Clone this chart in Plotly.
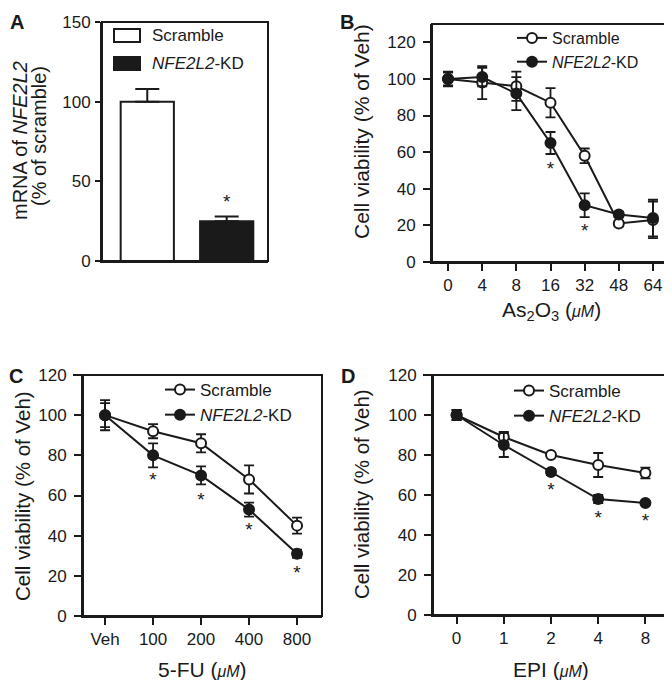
import plotly.graph_objects as go

FONT = "Arial, 'Liberation Sans', Helvetica, sans-serif"
INK = "#1a1a1a"
# page body has an 8px default margin; figure sized so that it fits the 672x680 window
OFF = 8
W, H = 672 - OFF, 680 - OFF

# ---------------- data ----------------
# Panel A
a_groups = ["Scramble", "NFE2L2-KD"]
a_values = [100, 25]
a_err = [8, 3]
a_star_x = ["NFE2L2-KD"]
a_star_y = [36]

# Panel B (As2O3, uM)
b_doses = ["0", "4", "8", "16", "32", "48", "64"]
b_scr = [100, 98, 96, 87, 58, 21, 23]
b_scr_err = [3.5, 9, 8, 8, 4, 1.5, 10]
b_kd = [100, 101, 92, 65, 31, 26, 24]
b_kd_err = [4, 5, 9, 6, 6.5, 1.5, 10]
b_star_x = ["16", "32"]
b_star_y = [50, 16]

# Panel C (5-FU, uM)
c_doses = ["Veh", "100", "200", "400", "800"]
c_scr = [100, 92, 86, 68, 45]
c_scr_err = [6, 3.5, 4.5, 7, 4]
c_kd = [100, 80, 70, 53, 31]
c_kd_err = [7.5, 6, 4.5, 3.5, 2]
c_star_x = ["100", "200", "400", "800"]
c_star_y = [67, 57, 42, 21]

# Panel D (EPI, uM)
d_doses = ["0", "1", "2", "4", "8"]
d_scr = [100, 89, 80, 75, 71]
d_scr_err = [2.5, 2.5, 1, 6, 2.7]
d_kd = [100, 85, 71.5, 58, 56]
d_kd_err = [2.5, 6, 1.5, 2, 1]
d_star_x = ["2", "4", "8"]
d_star_y = [62, 48, 46.5]

KD_NAME = "<i>NFE2L2</i>-KD"

# ---------------- helpers (window pixel -> paper fraction) ----------------
def px_x(p):
    return (p - OFF) / W

def px_y(p):
    return 1 - (p - OFF) / H

fig = go.Figure()

# Panel A bars
fig.add_trace(go.Bar(
    x=a_groups, y=a_values, width=0.67,
    marker=dict(color=["white", INK], line=dict(color=INK, width=2)),
    error_y=dict(type="data", array=a_err, arrayminus=[0] * len(a_err), symmetric=False,
                 color=INK, thickness=2, width=12),
    xaxis="x", yaxis="y", showlegend=False,
))
fig.add_trace(go.Scatter(x=a_star_x, y=a_star_y, mode="text", text=["*"] * len(a_star_x),
                         textfont=dict(size=19, color=INK, family=FONT),
                         xaxis="x", yaxis="y", showlegend=False))


def add_lines(xs, scr, scr_err, kd, kd_err, star_x, star_y, ax, leg):
    fig.add_trace(go.Scatter(
        x=xs, y=scr, mode="lines+markers", name="Scramble",
        line=dict(color=INK, width=2),
        marker=dict(symbol="circle", size=10, color="white", line=dict(color=INK, width=2)),
        error_y=dict(type="data", array=scr_err, color=INK, thickness=1.8, width=5),
        xaxis="x" + ax, yaxis="y" + ax, legend=leg, legendgroup=leg + "s",
    ))
    fig.add_trace(go.Scatter(
        x=xs, y=kd, mode="lines+markers", name=KD_NAME,
        line=dict(color=INK, width=2),
        marker=dict(symbol="circle", size=10, color=INK, line=dict(color=INK, width=2)),
        error_y=dict(type="data", array=kd_err, color=INK, thickness=1.8, width=5),
        xaxis="x" + ax, yaxis="y" + ax, legend=leg, legendgroup=leg + "k",
    ))
    fig.add_trace(go.Scatter(
        x=star_x, y=star_y, mode="text", text=["*"] * len(star_x),
        textfont=dict(size=19, color=INK, family=FONT),
        xaxis="x" + ax, yaxis="y" + ax, showlegend=False,
    ))


add_lines(b_doses, b_scr, b_scr_err, b_kd, b_kd_err, b_star_x, b_star_y, "2", "legend")
add_lines(c_doses, c_scr, c_scr_err, c_kd, c_kd_err, c_star_x, c_star_y, "3", "legend2")
add_lines(d_doses, d_scr, d_scr_err, d_kd, d_kd_err, d_star_x, d_star_y, "4", "legend3")

# ---------------- axes ----------------
tickfont = dict(family=FONT, size=17, color=INK)
common_line = dict(showline=True, linewidth=2, linecolor=INK, mirror=False,
                   showgrid=False, zeroline=False, tickfont=tickfont,
                   tickcolor=INK, tickwidth=2)

# plot boxes in window pixels: left, right, top, bottom
boxes = {
    "": (102, 268, 22, 261),
    "2": (432, 669, 24, 262),
    "3": (83, 322, 375, 616),
    "4": (433, 669, 375, 615),
}
xranges = {"": [-0.57, 1.52], "2": [-0.47, 6.47], "3": [-0.46, 4.52], "4": [-0.5, 4.5]}
xcats = {"": a_groups, "2": b_doses, "3": c_doses, "4": d_doses}
yranges = {"": [0, 150], "2": [0, 130], "3": [0, 120], "4": [0, 120]}
ytickvals = {"": [0, 50, 100, 150], "2": list(range(0, 121, 20)),
             "3": list(range(0, 121, 20)), "4": list(range(0, 121, 20))}
# how far the bottom / top frame lines poke out to the left (px)
ext_bottom = {"": 5, "2": 7, "3": 8, "4": 0}
ext_top = {"": 0, "2": 0, "3": 10, "4": 10}

layout_axes = {}
shapes = []
for k, (x0, x1, y0, y1) in boxes.items():
    xa = dict(common_line, domain=[px_x(x0), px_x(x1)], anchor="y" + k,
              type="category", categoryorder="array", categoryarray=xcats[k],
              range=xranges[k])
    if k == "":
        xa.update(ticks="", showticklabels=False)
    else:
        xa.update(ticks="outside", ticklen=7)
    ya = dict(common_line, domain=[px_y(y1), px_y(y0)], anchor="x" + k,
              range=yranges[k], tickvals=ytickvals[k], ticks="outside",
              ticklen=5 if k == "" else 7, ticklabelstandoff=1 if k == "" else 4)
    layout_axes["xaxis" + k] = xa
    layout_axes["yaxis" + k] = ya
    xr, yr = "x" + k + " domain", "y" + k + " domain"
    shapes.append(dict(type="rect", xref=xr, yref=yr, x0=0, x1=1, y0=0, y1=1,
                       line=dict(color=INK, width=2), fillcolor="rgba(0,0,0,0)"))
    wpx = x1 - x0
    if ext_bottom[k]:
        shapes.append(dict(type="line", xref=xr, yref=yr, x0=-ext_bottom[k] / wpx, x1=0,
                           y0=0, y1=0, line=dict(color=INK, width=2)))
    if ext_top[k]:
        shapes.append(dict(type="line", xref=xr, yref=yr, x0=-ext_top[k] / wpx, x1=0,
                           y0=1, y1=1, line=dict(color=INK, width=2)))

fig.update_layout(**layout_axes)

# ---------------- legends ----------------
def leg(left, top, size):
    return dict(x=px_x(left), y=px_y(top), xanchor="left", yanchor="top",
                bgcolor="rgba(0,0,0,0)", font=dict(family=FONT, size=size, color=INK),
                traceorder="grouped", tracegroupgap=0,
                itemclick=False, itemdoubleclick=False)

fig.update_layout(
    legend=leg(512, 21, 16),
    legend2=leg(160, 372, 17),
    legend3=leg(509, 373, 17),
)

# ---------------- annotations ----------------
ann = []
def text(x, y, s, size=20, angle=0, bold=False, xanchor="center"):
    ann.append(dict(x=px_x(x), y=px_y(y), xref="paper", yref="paper", text=s,
                    showarrow=False, textangle=angle, xanchor=xanchor, yanchor="middle",
                    font=dict(family=FONT, size=size, color=INK,
                              weight="bold" if bold else "normal")))

mu = "(<i><span style='font-size:16px'>μM</span></i>)"
# panel letters
text(17, 22, "A", 20, bold=True)
text(347, 22, "B", 20, bold=True)
text(16, 376, "C", 20, bold=True)
text(348, 376, "D", 20, bold=True)
# y titles
text(20, 141, "mRNA of <i>NFE2L2</i>", 20, angle=-90)
text(39, 136, "(% of scramble)", 20, angle=-90)
text(361, 131, "Cell viability (% of Veh)", 21, angle=-90)
text(22, 496, "Cell viability (% of Veh)", 20.5, angle=-90)
text(361, 494, "Cell viability (% of Veh)", 20.5, angle=-90)
# x titles
text(551, 311, "As<sub>2</sub>O<sub>3</sub> " + mu, 21)
text(202, 669, "5-FU " + mu, 21)
text(551, 669, "EPI " + mu, 21)
# Panel A legend (bar-style boxes)
text(150, 36, "Scramble", 17, xanchor="left")
text(150, 63, KD_NAME, 17, xanchor="left")
shapes += [
    dict(type="rect", xref="paper", yref="paper", x0=px_x(114), x1=px_x(140),
         y0=px_y(42), y1=px_y(29), line=dict(color=INK, width=2), fillcolor="white"),
    dict(type="rect", xref="paper", yref="paper", x0=px_x(114), x1=px_x(140),
         y0=px_y(70), y1=px_y(57), line=dict(color=INK, width=2), fillcolor=INK),
]

fig.update_layout(
    width=W, height=H, margin=dict(l=0, r=0, t=0, b=0, autoexpand=False),
    paper_bgcolor="white", plot_bgcolor="white",
    font=dict(family=FONT, color=INK),
    annotations=ann, shapes=shapes,
)

fig.write_html("out.html")
